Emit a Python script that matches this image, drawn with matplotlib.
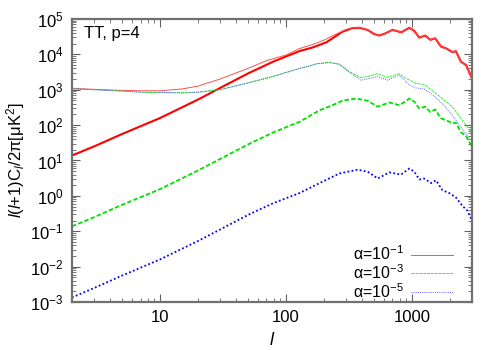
import matplotlib
matplotlib.use("Agg")
import matplotlib.pyplot as plt
from matplotlib.ticker import LogLocator, NullFormatter, LogFormatterMathtext, FixedLocator, FixedFormatter

plt.rcParams['font.family'] = ['Liberation Sans', 'DejaVu Sans']
plt.rcParams['mathtext.fontset'] = 'custom'
plt.rcParams['mathtext.rm'] = 'Liberation Sans'
plt.rcParams['mathtext.it'] = 'Liberation Sans:italic'
plt.rcParams['mathtext.bf'] = 'Liberation Sans:bold'

# ---- data ----
l_red = [2, 3, 5, 10, 20, 30, 50, 80, 128, 162, 210, 234, 281, 337, 383, 443, 503, 551, 615, 700,
         824, 954, 1045, 1144, 1276, 1398, 1532, 1700, 1862, 2100, 2235, 2450, 2685, 3000]
red_thick = [13.8, 25, 56, 158, 525, 1120, 2880, 6300, 12300, 15500, 21900, 28200, 43600, 55000, 56200,
             49000, 37200, 33900, 38900, 49000, 41700, 56200, 45700, 29500, 33900, 25700, 28200,
             16600, 14800, 11500, 12300, 6170, 5010, 2090]

l_red_thin = [2, 3, 5, 7, 10, 15, 20, 30, 50, 70, 100, 128, 160, 200, 250, 300, 340, 383, 443, 503,
              551, 615, 700, 824, 954, 1045, 1144, 1276, 1398, 1532, 1700, 1862, 2100, 2235, 2450, 2685, 3000]
red_thin = [1100, 1020, 955, 933, 933, 1050, 1260, 2000, 4000, 6600, 9550, 14500, 18600, 25100, 37200,
            50100, 56200, 57500, 49000, 37200, 33900, 38900, 49000, 41700, 56200, 45700, 29500, 33900,
            25700, 28200, 16600, 14800, 11500, 12300, 6170, 5010, 2090]

l_green = [2, 3, 5, 10, 20, 30, 50, 80, 128, 185, 234, 281, 360, 443, 534, 662, 796, 954, 1045, 1144,
           1276, 1398, 1532, 1700, 1862, 2100, 2235, 2450, 2685, 3000]
green_thick = [0.138, 0.25, 0.56, 1.55, 5.2, 11, 28.5, 63, 123, 263, 363, 490, 562, 490, 331, 437,
               363, 562, 457, 295, 331, 234, 275, 155, 138, 112, 117, 63, 50, 24]

l_blue = [2, 3, 5, 10, 20, 30, 50, 80, 128, 185, 266, 372, 446, 535, 662, 820, 954, 1045, 1144, 1248,
          1416, 1553, 1745, 1977, 2235, 2520, 2760, 3000]
blue_thick = [0.00135, 0.0025, 0.0056, 0.016, 0.053, 0.112, 0.29, 0.63, 1.2, 2.3, 4.3, 5.5, 4.8, 3.1,
              4.6, 4.0, 5.9, 4.8, 2.9, 3.1, 2.3, 2.75, 1.45, 1.2, 0.9, 0.52, 0.38, 0.2]

l_gthin = [2, 3, 5, 7, 10, 15, 20, 30, 51, 80, 128, 154, 174, 221, 265, 319, 394, 440, 532, 638, 796,
           898, 1077, 1248, 1459, 1741, 2089, 2507, 2940, 3000]
green_thin = [1050, 1000, 912, 851, 832, 813, 851, 1000, 1585, 2400, 3980, 4680, 5370, 5890, 5250, 3240,
              2190, 2340, 2820, 2240, 2820, 2090, 1510, 1410, 933, 562, 331, 138, 65, 56]

l_bthin = [2, 3, 5, 7, 10, 15, 20, 30, 51, 80, 128, 154, 174, 221, 265, 319, 394, 440, 532, 638, 796,
           954, 1077, 1248, 1459, 1741, 2089, 2507, 2940, 3000]
blue_thin = [1050, 1000, 912, 851, 832, 813, 851, 1000, 1585, 2400, 3980, 4680, 5370, 5890, 5250, 3090,
             1860, 2000, 2340, 1860, 2570, 1350, 1120, 1050, 724, 407, 191, 79, 37, 33]

legend_labels = ['α=10$^{-1}$', 'α=10$^{-3}$', 'α=10$^{-5}$']
title_text = 'TT, p=4'

# ---- figure ----
fig = plt.figure(figsize=(5, 3.5), dpi=100)
ax = fig.add_axes([0.144, 0.137, 0.800, 0.809])

ax.plot(l_red, red_thick, color='#ff0000', lw=1.5, solid_capstyle='butt')
ax.plot(l_green, green_thick, color='#00e000', lw=1.3, ls=(0, (2.5, 1.2)))
ax.plot(l_blue, blue_thick, color='#0000ff', lw=1.3, ls=(0, (1, 1.3)))
h1, = ax.plot(l_red_thin, red_thin, color='#ff5050', lw=0.7, label=legend_labels[0])
h2, = ax.plot(l_gthin, green_thin, color='#30f030', lw=0.7, ls=(0, (3, 1)), label=legend_labels[1])
h3, = ax.plot(l_bthin, blue_thin, color='#6060ff', lw=0.7, ls=(0, (1, 1.2)), label=legend_labels[2])

ax.set_xscale('log')
ax.set_yscale('log')
ax.set_xlim(2, 3000)
ax.set_ylim(1e-3, 1e5)

ax.xaxis.set_major_locator(FixedLocator([10, 100, 1000]))
ax.xaxis.set_major_formatter(FixedFormatter(['10', '100', '1000']))
ax.xaxis.set_minor_locator(LogLocator(base=10, subs=range(2, 10), numticks=20))
ax.xaxis.set_minor_formatter(NullFormatter())
ax.yaxis.set_major_locator(LogLocator(base=10, numticks=20))
ax.yaxis.set_major_formatter(LogFormatterMathtext())
ax.yaxis.set_minor_locator(LogLocator(base=10, subs=range(2, 10), numticks=20))
ax.yaxis.set_minor_formatter(NullFormatter())

ax.tick_params(which='both', direction='in', top=True, right=True, color='#606060')
ax.tick_params(which='major', length=6, width=0.8, labelsize=12, pad=6)
ax.tick_params(which='minor', length=3, width=0.6)
for s in ax.spines.values():
    s.set_color('#707070')
    s.set_linewidth(1.6)

ax.set_xlabel(r'$\mathit{l}$', fontsize=13, labelpad=5)
ax.set_ylabel(r'$\mathit{l}(\mathit{l}$+1)C$_{\mathit{l}}$/2π[μK$^2$]', fontsize=12, labelpad=2)

ax.text(0.03, 0.947, title_text, transform=ax.transAxes, fontsize=12, va='center', ha='left')

leg = ax.legend(handles=[h1, h2, h3], loc='lower right', frameon=False, markerfirst=False,
                fontsize=11.5, handlelength=2.6, labelspacing=0.0, borderaxespad=0.0,
                borderpad=0.0, bbox_to_anchor=(0.9525, 0.005), handletextpad=0.5)

fig.savefig('out.png', dpi=100)
